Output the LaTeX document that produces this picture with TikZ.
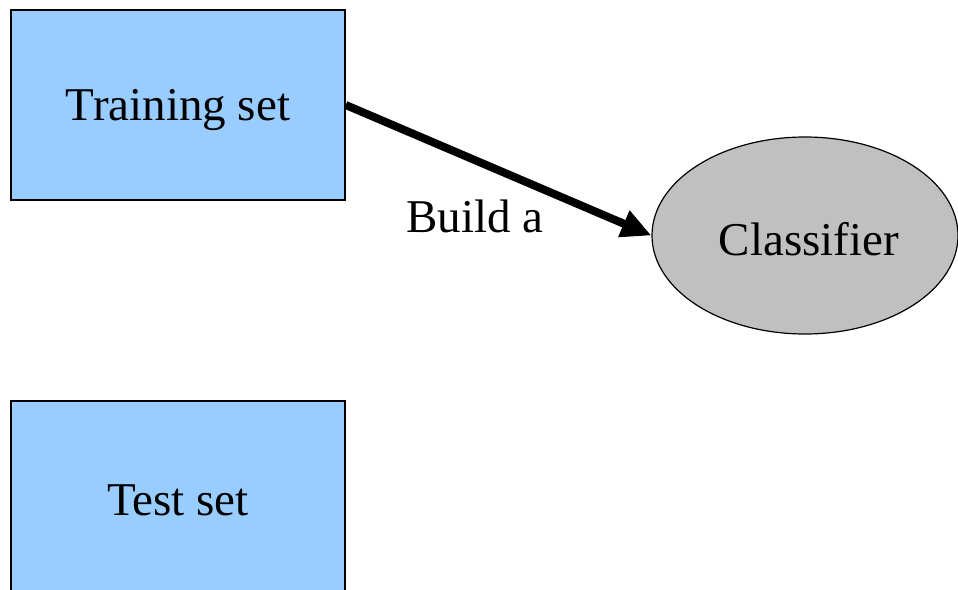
\documentclass[tikz,border=0pt]{standalone}
\usepackage{fontspec}
\setmainfont{Liberation Serif}
\usetikzlibrary{arrows.meta,shapes.geometric}
\definecolor{setblue}{HTML}{99CCFF}
\definecolor{clsgray}{HTML}{C0C0C0}
\tikzset{
  setbox/.style={draw=black, line width=1.5pt, fill=setblue, rectangle, inner sep=0pt, minimum width=334pt},
  clsnode/.style={draw=black, line width=1.2pt, fill=clsgray, ellipse, inner sep=0pt, minimum width=306pt, minimum height=197pt},
  txt/.style={font=\fontsize{47}{50}\selectfont},
  bigarrow/.style={line width=8pt, -{Triangle[length=30pt,width=27pt]}}
}
\begin{document}
\begin{tikzpicture}[x=1pt,y=-1pt]
\clip (0,0) rectangle (958,589);
\fill[white] (0,0) rectangle (958,589);
\node[setbox, minimum height=190pt] (tr) at (178,105) {};
\node[txt] (trt) at (178,110) {Training set};
\node[setbox, minimum height=220pt] (te) at (178,511) {};
\node[txt] (tet) at (178,500) {Test set};
\node[clsnode] (cl) at (805,235.5) {};
\node[txt] (clt) at (809,239) {Classifier};
\draw[bigarrow] (tr.east) -- (cl.west);
\node[txt] (lbl) at (475,216) {Build a};
\end{tikzpicture}
\end{document}
